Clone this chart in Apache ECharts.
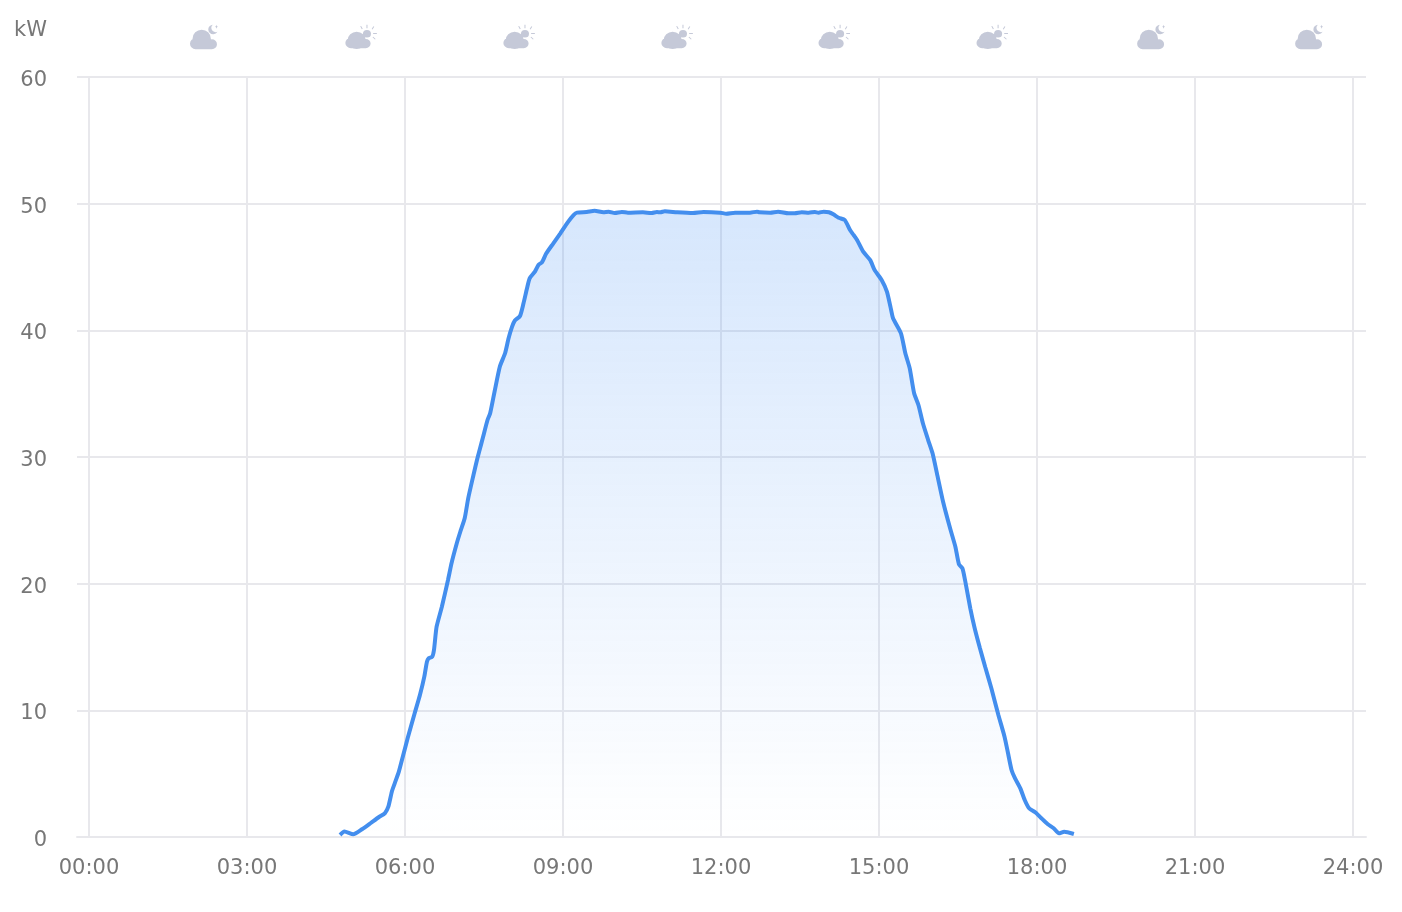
<!DOCTYPE html>
<html>
<head>
<meta charset="utf-8">
<style>html,body{margin:0;padding:0;background:#fff}#c{width:1402px;height:912px}</style>
<script src="https://cdn.jsdelivr.net/npm/echarts@6/dist/echarts.min.js"></script>
</head>
<body>
<div id="c"></div>
<script>
const tickMinutes = [0,180,360,540,720,900,1080,1260,1440];
const yTicks = [0,10,20,30,40,50,60];
const minutes = [286,291,301,311,322,330,337,341,345,348,353,358,363,371,377,382,385,387,391,393,396,402,409,413,419,423,428,432,438,442,445,449,454,457,462,468,474,478,482,485,491,495,499,502,508,512,516,521,529,537,546,552,556,567,576,586,592,599,607,614,631,641,647,651,656,670,688,700,719,726,736,753,761,764,776,785,797,804,812,820,827,831,837,843,848,854,861,867,871,875,882,890,895,903,909,913,916,925,930,935,940,945,950,956,961,966,973,981,987,991,995,998,1004,1009,1015,1021,1028,1036,1043,1047,1051,1055,1061,1066,1071,1078,1085,1092,1099,1105,1111,1122];
const power = [0.16,0.43,0.21,0.61,1.16,1.56,1.87,2.39,3.58,4.18,5.16,6.47,7.79,9.77,11.21,12.66,13.84,14.11,14.23,14.76,16.6,18.18,20.29,21.61,23.19,24.1,25.16,26.74,28.58,29.76,30.55,31.6,32.92,33.45,35.15,37.13,38.19,39.37,40.29,40.76,41.13,42.13,43.32,44.11,44.63,45.16,45.37,46.08,46.87,47.66,48.58,49.1,49.29,49.34,49.44,49.32,49.37,49.26,49.34,49.29,49.32,49.26,49.34,49.32,49.4,49.32,49.26,49.34,49.29,49.21,49.29,49.29,49.37,49.32,49.29,49.37,49.24,49.24,49.32,49.29,49.34,49.29,49.37,49.32,49.16,48.89,48.71,47.92,47.53,47.13,46.21,45.54,44.76,43.97,43.05,41.87,40.95,39.76,38.19,37.0,35.03,34.09,32.66,31.34,30.29,28.71,26.47,24.37,22.92,21.55,21.21,20.29,18.05,16.48,14.9,13.42,11.74,9.63,7.92,6.61,5.29,4.63,3.84,2.92,2.27,1.95,1.48,1.03,0.69,0.29,0.42,0.24];
const weatherMinutes = [131,310,490,670,849,1029,1210,1390];
const weatherKinds = ['moon','sun','sun','sun','sun','sun','moon','moon'];

const circle = (x,y,r)=>`M${x-r} ${y}A${r} ${r} 0 1 1 ${x+r} ${y}A${r} ${r} 0 1 1 ${x-r} ${y}Z`;
const moonIcon = 'path://' + circle(6,19,5.5) + circle(12,14,9) + circle(22,19.5,5) + 'M6 18H22V24.5H6Z'
  + 'M23 0A4.8 4.8 0 1 0 27.5 7A4.2 4.2 0 0 1 23 0Z'
  + 'M26.5 0L27 1.5L28 2L27 2.5L26.5 4L26 2.5L25 2L26 1.5Z';
const sunIcon = 'path://' + circle(5.8,18.8,5.5) + circle(11.5,16.3,9) + circle(20.5,19.5,4.8) + 'M5.8 18H20.5V24.3H5.8Z'
  + circle(21.7,9.3,4)
  + 'M21.2 0H22.2V3.5H21.2ZM15 1.6L15.9 1.1L17.5 4L16.6 4.5ZM28 1.6L28.9 2.1L27.2 4.9L26.4 4.4ZM27.8 8.6H31.5V9.6H27.8ZM27.2 13L27.9 12.4L30.3 14.8L29.6 15.4Z';

const txt = '#777777', grid = '#e8e8ec', font = 'DejaVu Sans';
const chart = echarts.init(document.getElementById('c'), null, {renderer:'canvas'});
chart.setOption({
  animation:false,
  grid:{left:77, top:77, width:1289, height:760, containLabel:false, outerBoundsMode:'none'},
  xAxis:{
    type:'value', min:-13.67, max:1454.8,
    axisLine:{show:true, lineStyle:{color:grid,width:2}},
    axisTick:{show:false, customValues:tickMinutes},
    splitLine:{show:true, lineStyle:{color:grid,width:2}},
    axisLabel:{
      customValues:tickMinutes, color:txt, fontFamily:font, fontSize:21, margin:21,
      formatter:v=>String(Math.floor(v/60)).padStart(2,'0')+':00'
    }
  },
  yAxis:{
    type:'value', min:0, max:60, interval:10,
    name:'kW', nameLocation:'end', nameGap:36,
    nameTextStyle:{color:txt, fontFamily:font, fontSize:21, align:'right', padding:[0,42,0,0]},
    axisLine:{show:false}, axisTick:{show:false},
    splitLine:{show:true, lineStyle:{color:grid,width:2}},
    axisLabel:{color:txt, fontFamily:font, fontSize:21, margin:30, verticalAlign:'top', lineHeight:7,
      formatter:v=>yTicks.includes(v)?String(v):''}
  },
  series:[
    {
      type:'line', data:minutes.map((m,i)=>[m,power[i]]),
      showSymbol:false, smooth:0.2,
      lineStyle:{color:'#438eee',width:4},
      areaStyle:{opacity:1,color:new echarts.graphic.LinearGradient(0,0,0,1,[
        {offset:0,color:'rgba(70,145,245,0.22)'},
        {offset:1,color:'rgba(70,145,245,0)'}
      ])}
    },
    {
      type:'scatter', clip:false, silent:true,
      data:weatherMinutes.map((m,i)=>({
        value:[m,63.16],
        symbol:weatherKinds[i]==='moon'?moonIcon:sunIcon,
        symbolSize:weatherKinds[i]==='moon'?[28,24.5]:[31.5,24.3]
      })),
      itemStyle:{color:'#c5c9d8',opacity:1}
    }
  ]
});
</script>
</body>
</html>
